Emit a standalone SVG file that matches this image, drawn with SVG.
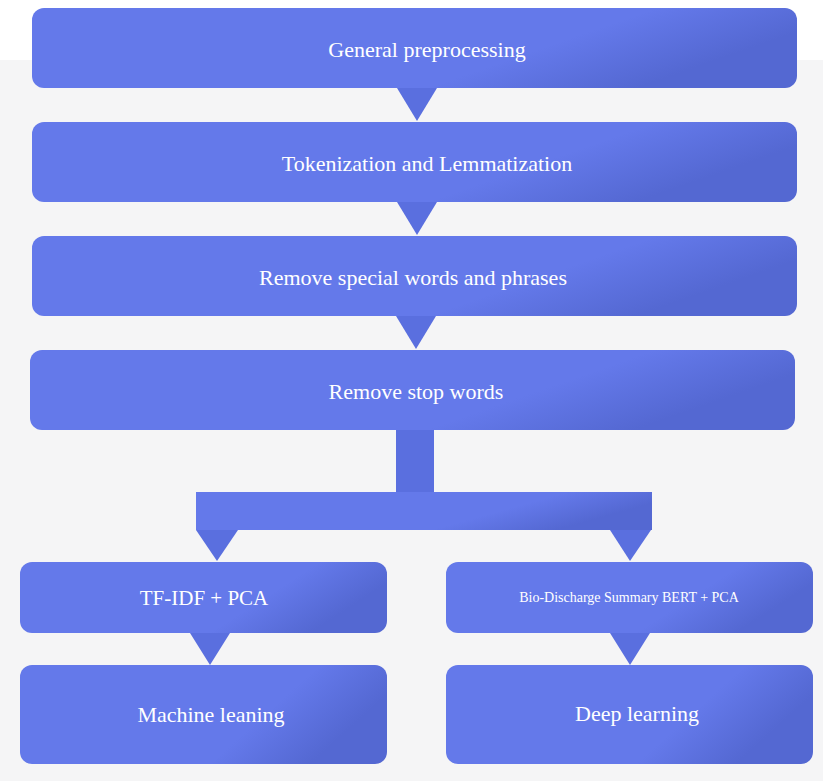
<svg xmlns="http://www.w3.org/2000/svg" width="823" height="781" viewBox="0 0 823 781">
<defs>
<linearGradient id="g" x1="0" y1="0" x2="1" y2="0.3">
<stop offset="0" stop-color="#6479ea"/><stop offset="0.75" stop-color="#6479ea"/><stop offset="1" stop-color="#5468d2"/>
</linearGradient>
<style>
.b{fill:url(#g)}
.c{fill:#5a6fdf}
text{font-family:"Liberation Serif",serif;fill:#fff;text-anchor:middle;dominant-baseline:central}
</style>
</defs>
<rect width="823" height="781" fill="#f5f5f6"/>
<rect width="823" height="60" fill="#ffffff"/>
<g id="connectors">
<polygon class="c" points="397,88 437,88 417,121"/>
<polygon class="c" points="397,202 437,202 417,235"/>
<polygon class="c" points="396,316 436,316 416,349"/>
<rect class="c" x="396" y="430" width="38" height="63"/>
<rect class="b" x="196" y="492" width="456" height="38"/>
<polygon class="c" points="196,530 238,530 217,561"/>
<polygon class="c" points="610,530 651,530 630,561"/>
<polygon class="c" points="190,633 230,633 210,665"/>
<polygon class="c" points="610,633 650,633 630,665"/>
</g>
<g id="n1"><rect class="b" x="32" y="8" width="765" height="80" rx="12"/><text x="427" y="49" font-size="22">General preprocessing</text></g>
<g id="n2"><rect class="b" x="32" y="122" width="765" height="80" rx="12"/><text x="427" y="163" font-size="22">Tokenization and Lemmatization</text></g>
<g id="n3"><rect class="b" x="32" y="236" width="765" height="80" rx="12"/><text x="413" y="277" font-size="22">Remove special words and phrases</text></g>
<g id="n4"><rect class="b" x="30" y="350" width="765" height="80" rx="12"/><text x="416" y="391" font-size="22">Remove stop words</text></g>
<g id="n5"><rect class="b" x="20" y="562" width="367" height="71" rx="12"/><text x="204" y="598" font-size="21">TF-IDF + PCA</text></g>
<g id="n6"><rect class="b" x="446" y="562" width="367" height="71" rx="12"/><text x="629" y="597" font-size="14">Bio-Discharge Summary BERT + PCA</text></g>
<g id="n7"><rect class="b" x="20" y="665" width="367" height="99" rx="12"/><text x="211" y="714" font-size="22">Machine leaning</text></g>
<g id="n8"><rect class="b" x="446" y="665" width="367" height="99" rx="12"/><text x="637" y="713" font-size="22">Deep learning</text></g>
</svg>
